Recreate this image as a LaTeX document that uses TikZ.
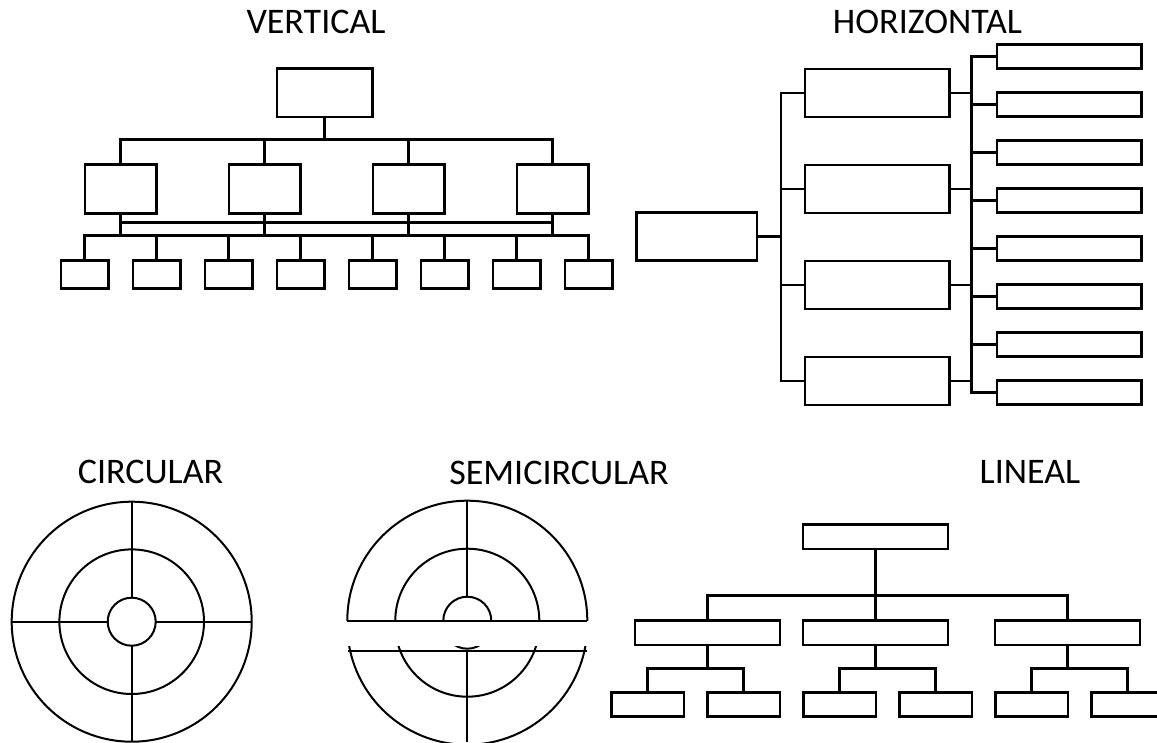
\documentclass[tikz,border=0pt]{standalone}
\usepackage{fontspec}
\setmainfont{Carlito}
\begin{document}
\begin{tikzpicture}[x=1pt,y=-1pt,
  ln/.style={line width=2.5pt,line cap=rect},
  bx/.style={draw,line width=2.5pt,inner sep=0pt,outer sep=0pt},
  vtopbox/.style={bx,minimum width=95.5pt,minimum height=48.5pt},
  vmidbox/.style={bx,minimum width=71.5pt,minimum height=49pt},
  vsmallbox/.style={bx,minimum width=47.5pt,minimum height=27.6pt},
  hleftbox/.style={bx,minimum width=120.6pt,minimum height=48pt},
  hmidbox/.style={bx,minimum width=144.5pt,minimum height=48pt},
  hsmallbox/.style={bx,minimum width=144.5pt,minimum height=24pt},
  lwidebox/.style={bx,minimum width=145pt,minimum height=24.5pt},
  lsmallbox/.style={bx,minimum width=72.8pt,minimum height=24.4pt},
  ring/.style={line width=2pt},
  title/.style={inner sep=0pt,anchor=base,font=\fontsize{36}{40}\selectfont}
]
\fill[white] (0,0) rectangle (1157,742);
\useasboundingbox (0,0) rectangle (1157,742);

% ---------- VERTICAL ----------
\node[title] (tv) at (316,33.3) {VERTICAL};
\node[vtopbox] (vt) at (324.6,92.5) {};
\foreach \i/\x in {1/120.5,2/264.5,3/408.5,4/552.5}
  \node[vmidbox] (vm\i) at (\x,188.8) {};
\foreach \i in {1,...,8}
  \node[vsmallbox] (vs\i) at ({84.5+72*(\i-1)},274.5) {};
\coordinate (vb1) at (324.6,139.3);
\coordinate (vb2) at (324.6,222.7);
\coordinate (vb3) at (324.6,235.7);
\draw[ln] (vt.south) -- (vb1);
\draw[ln] (vm1.north) -- (vm1.north |- vb1) -- (vm4.north |- vb1) -- (vm4.north);
\draw[ln] (vm2.north) -- (vm2.north |- vb1);
\draw[ln] (vm3.north) -- (vm3.north |- vb1);
\foreach \i in {1,...,4}
  \draw[ln] (vm\i.south) -- (vm\i.south |- vb3);
\draw[ln] (vm1.south |- vb2) -- (vm4.south |- vb2);
\draw[ln] (vs1.north |- vb3) -- (vs8.north |- vb3);
\foreach \i in {1,...,8}
  \draw[ln] (vs\i.north) -- (vs\i.north |- vb3);

% ---------- HORIZONTAL ----------
\node[title] (th) at (927.5,33.3) {HORIZONTAL};
\node[hleftbox] (hl) at (696.7,236.7) {};
\foreach \i in {1,...,4}
  \node[hmidbox] (hm\i) at (877.3,{92.8+96*(\i-1)}) {};
\foreach \i in {1,...,8}
  \node[hsmallbox] (hs\i) at (1069,{56.7+48*(\i-1)}) {};
\coordinate (hb1) at (781,236.7);
\coordinate (hb2) at (971.5,236.7);
\coordinate (hb3) at (971.5,390);
\draw[ln] (hl.east) -- (hb1);
\draw[ln] (hm1.west -| hb1) -- (hm4.west -| hb1);
\foreach \i in {1,...,4} {
  \draw[ln] (hm\i.west) -- (hm\i.west -| hb1);
  \draw[ln] (hm\i.east) -- (hm\i.east -| hb2);
}
\draw[ln] (hs1.west -| hb2) -- (hb3);
\foreach \i in {1,...,8}
  \draw[ln] (hs\i.west) -- (hs\i.west -| hb2);

% ---------- CIRCULAR ----------
\node[title] (tc) at (150.5,483.3) {CIRCULAR};
\draw[ring] (131.7,621.7) circle[radius=120pt];
\draw[ring] (131.7,621.7) circle[radius=72.3pt];
\draw[ring] (131.7,621.7) circle[radius=24pt];
\draw[ring] (131.7,501.7) -- (131.7,597.7);
\draw[ring] (131.7,645.7) -- (131.7,741.7);
\draw[ring] (11.7,621.7) -- (107.7,621.7);
\draw[ring] (155.7,621.7) -- (251.7,621.7);

% ---------- SEMICIRCULAR ----------
\node[title] (ts) at (559,484.5) {SEMICIRCULAR};
\begin{scope}
  \clip (330,490) rectangle (600,620.7);
  \foreach \r in {120,72,24}
    \draw[ring] (467.3,620.7) circle[radius=\r pt];
\end{scope}
\draw[ring] (347.3,620.7) -- (587.3,620.7);
\draw[ring] (467.3,500.7) -- (467.3,596.7);
\begin{scope}
  \clip (330,646) rectangle (600,760);
  \foreach \r in {120,72,24}
    \draw[ring] (467.3,624.7) circle[radius=\r pt];
\end{scope}
\draw[ring] (348.3,651) -- (587.3,651);
\draw[ring] (467.3,651) -- (467.3,742);

% ---------- LINEAL ----------
\node[title] (tl) at (1030,483.3) {LINEAL};
\node[lwidebox] (lt) at (875.7,536.7) {};
\foreach \i/\x in {1/707.7,2/875.7,3/1067.5}
  \node[lwidebox] (lm\i) at (\x,632.7) {};
\foreach \i in {1,...,6}
  \node[lsmallbox] (ls\i) at ({647.7+96*(\i-1)},704.5) {};
\coordinate (lb1) at (875.7,595.7);
\coordinate (lb2) at (875.7,668.7);
\draw[ln] (lt.south) -- (lb1);
\draw[ln] (lm1.north) -- (lm1.north |- lb1) -- (lm3.north |- lb1) -- (lm3.north);
\draw[ln] (lm2.north) -- (lm2.north |- lb1);
\foreach \i/\a/\b in {1/1/2,2/3/4,3/5/6} {
  \draw[ln] (lm\i.south) -- (lm\i.south |- lb2);
  \draw[ln] (ls\a.north) -- (ls\a.north |- lb2) -- (ls\b.north |- lb2) -- (ls\b.north);
}
\end{tikzpicture}
\end{document}
